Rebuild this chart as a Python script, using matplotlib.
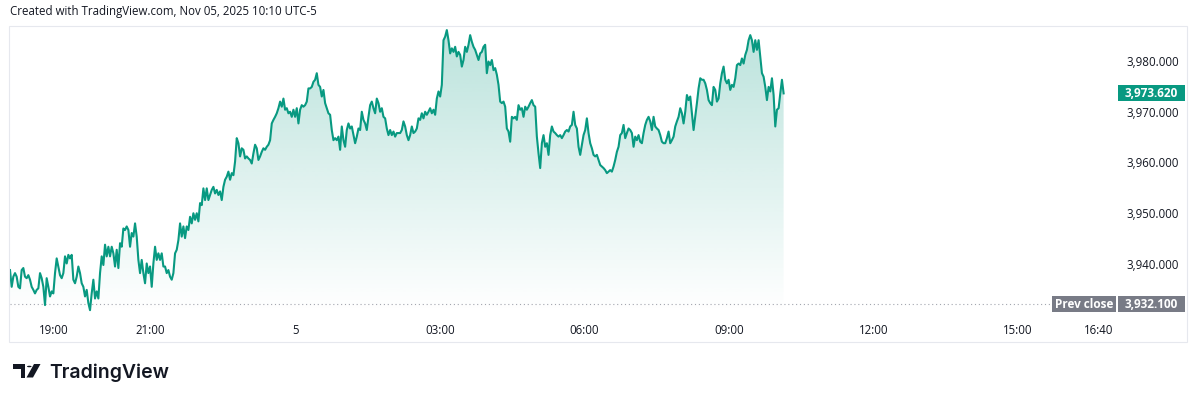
import matplotlib
matplotlib.use("Agg")
import matplotlib.pyplot as plt
import matplotlib.dates as mdates
from matplotlib.patches import Rectangle, Polygon, Circle
import numpy as np
import pandas as pd

header = "Created with TradingView.com, Nov 05, 2025 10:10 UTC-5"
start_time = "2025-11-04 18:05"
end_time = "2025-11-05 10:08"

# price, roughly every 2 minutes
prices = [
    3938.8, 3935.5, 3937.5, 3938.2, 3937.5, 3935.5, 3935.2, 3938.8, 3939.2, 3937.5,
    3937.2, 3937.8, 3936.9, 3935.5, 3934.9, 3934.2, 3934.9, 3935.2, 3938.2, 3937.2,
    3935.5, 3931.9, 3937.2, 3935.5, 3933.6, 3934.6, 3934.2, 3938.2, 3941.1, 3939.5,
    3937.8, 3937.2, 3938.2, 3941.5, 3940.1, 3941.8, 3941.1, 3941.8, 3936.9, 3936.2,
    3937.5, 3939.5, 3938.2, 3936.2, 3935.5, 3933.6, 3934.9, 3932.3, 3930.9, 3934.2,
    3936.9, 3933.2, 3934.6, 3933.2, 3938.2, 3941.5, 3939.8, 3943.8, 3941.5, 3943.4,
    3941.5, 3943.4, 3942.1, 3939.5, 3942.8, 3939.2, 3944.1, 3943.4, 3947.0, 3946.7,
    3947.4, 3946.7, 3943.4, 3946.1, 3945.4, 3948.0, 3945.4, 3940.8, 3938.2, 3940.8,
    3938.2, 3936.2, 3940.1, 3938.2, 3939.5, 3935.5, 3940.1, 3943.4, 3940.8, 3942.1,
    3940.8, 3942.1, 3939.5, 3939.5, 3938.2, 3938.8, 3937.5, 3936.9, 3938.2, 3942.1,
    3942.8, 3944.7, 3948.0, 3945.4, 3947.4, 3945.1, 3947.4, 3946.7, 3949.3, 3948.0,
    3950.0, 3948.7, 3950.0, 3948.4, 3952.0, 3951.6, 3954.9, 3952.6, 3954.9, 3952.6,
    3953.6, 3954.6, 3955.2, 3953.9, 3954.6, 3953.6, 3954.3, 3952.6, 3955.2, 3956.6,
    3957.2, 3958.2, 3956.6, 3957.9, 3957.5, 3960.2, 3964.8, 3963.8, 3961.2, 3962.8,
    3962.5, 3960.8, 3961.2, 3960.8, 3960.5, 3959.8, 3961.8, 3963.5, 3962.8, 3960.5,
    3961.2, 3962.1, 3962.8, 3962.5, 3963.1, 3963.5, 3964.4, 3967.7, 3968.4, 3969.0,
    3969.7, 3970.7, 3972.0, 3971.0, 3972.6, 3970.4, 3970.7, 3969.7, 3970.0, 3969.0,
    3970.4, 3969.0, 3970.7, 3967.7, 3970.4, 3971.3, 3971.0, 3971.3, 3972.0, 3974.6,
    3974.6, 3974.9, 3975.9, 3976.3, 3977.6, 3975.3, 3974.9, 3973.0, 3974.3, 3971.7,
    3970.7, 3969.7, 3969.4, 3966.4, 3964.4, 3964.8, 3964.4, 3965.1, 3962.5, 3967.1,
    3964.4, 3963.1, 3966.4, 3967.7, 3966.7, 3967.1, 3965.4, 3963.8, 3965.1, 3966.7,
    3966.4, 3970.0, 3968.4, 3967.7, 3966.4, 3969.0, 3971.3, 3972.0, 3970.7, 3969.7,
    3972.6, 3971.7, 3970.0, 3970.7, 3969.0, 3968.7, 3966.7, 3965.4, 3966.4, 3965.4,
    3966.1, 3965.1, 3965.8, 3965.8,
    3965.8, 3966.4, 3968.1, 3967.1, 3965.4, 3964.4, 3965.4, 3967.1, 3965.8, 3966.1,
    3966.7, 3968.7, 3968.4, 3969.7, 3968.7, 3970.0, 3969.4, 3970.0, 3970.7, 3969.7,
    3970.4, 3969.4, 3972.6, 3974.0, 3973.0, 3975.3, 3984.1, 3984.8, 3986.1, 3984.1,
    3981.5, 3982.5, 3981.8, 3982.8, 3980.9, 3981.8, 3981.2, 3978.9, 3980.2, 3982.8,
    3981.8, 3983.2, 3985.1, 3983.8, 3982.8, 3982.2, 3981.2, 3980.2, 3981.5, 3981.8,
    3982.8, 3983.2, 3977.6, 3979.9, 3979.2, 3980.2, 3978.2, 3978.6, 3977.3, 3975.3,
    3972.0, 3971.7, 3972.0, 3971.0, 3966.7, 3966.1, 3964.1, 3969.0, 3968.7, 3969.0,
    3968.4, 3971.3, 3970.4, 3970.7, 3969.0, 3971.0, 3970.4, 3971.0, 3971.7, 3972.3,
    3971.3, 3971.0, 3965.1, 3961.8, 3958.9, 3963.8, 3965.4, 3963.1, 3963.8, 3961.5,
    3965.4, 3967.1, 3966.1, 3965.8, 3965.4, 3965.1, 3965.4, 3964.8, 3965.4, 3966.1,
    3966.4, 3966.1, 3967.1, 3967.4, 3970.0, 3967.4, 3966.7, 3963.1, 3961.5, 3963.5,
    3965.4, 3966.4, 3968.7, 3965.8, 3963.8, 3962.8, 3961.5, 3961.2, 3961.5, 3960.5,
    3959.5, 3959.2, 3958.9, 3958.5, 3957.9, 3958.2, 3958.5, 3958.2, 3959.2, 3960.5,
    3962.1, 3963.1, 3965.4, 3965.8, 3967.4, 3964.8, 3965.8, 3966.7, 3966.4, 3965.8,
    3963.1, 3965.1, 3964.4, 3965.4, 3964.1, 3963.8, 3965.8, 3967.4, 3968.4, 3969.0,
    3968.1, 3966.4, 3969.0, 3967.1, 3966.7, 3966.4, 3965.4, 3964.1, 3963.8, 3963.8,
    3964.8, 3966.1, 3963.8, 3964.4, 3965.1, 3967.1, 3968.1, 3969.0, 3970.7, 3969.7,
    3967.7, 3970.0, 3973.3, 3972.3, 3973.0, 3969.7, 3966.4, 3969.0, 3971.7, 3974.6,
    3976.6, 3976.3, 3976.3, 3975.6, 3974.3, 3972.3, 3971.7, 3971.3, 3974.9, 3974.3,
    3972.0, 3972.6, 3975.6, 3977.6, 3978.9, 3976.3, 3975.6, 3976.3, 3974.3, 3975.3,
    3974.9, 3976.6, 3979.2, 3979.5, 3979.2, 3980.5, 3979.5, 3981.2, 3982.2, 3984.1,
    3985.1, 3984.1, 3981.8, 3984.1, 3982.2, 3984.1, 3980.9, 3977.6, 3976.9, 3974.9,
    3972.3, 3974.9, 3974.0, 3976.6, 3973.3, 3967.1, 3970.4, 3970.7, 3973.6, 3976.3,
    3973.62,
]
last_price = 3973.62
prev_close = 3932.10

price_ticks = [3940, 3950, 3960, 3970, 3980]
time_ticks = ["2025-11-04 19:00", "2025-11-04 21:00", "2025-11-05 00:00",
              "2025-11-05 03:00", "2025-11-05 06:00", "2025-11-05 09:00",
              "2025-11-05 12:00", "2025-11-05 15:00", "2025-11-05 16:40"]
time_labels = ["19:00", "21:00", "5", "03:00", "06:00", "09:00", "12:00", "15:00", "16:40"]

W, H = 1200, 401
GREEN = "#089981"
GRAY_BOX = "#787b86"
TEXT = "#131722"
plt.rcParams["font.family"] = ["Open Sans", "DejaVu Sans"]


def fx(px):
    return px / W


def fy(py):
    return 1 - py / H


times = pd.date_range(start_time, end_time, periods=len(prices))
t = mdates.date2num(times.to_pydatetime())
p = np.array(prices)

fig = plt.figure(figsize=(W / 100, H / 100), dpi=100)
fig.patch.set_facecolor("white")

# outer frame of the chart widget
fig.add_artist(Rectangle((fx(9), fy(342)), fx(1187) - fx(9), fy(26) - fy(342),
                         transform=fig.transFigure, fill=False, ec="#e6e8ee", lw=0.8))

ax = fig.add_axes([fx(10), fy(313), fx(1117) - fx(10), fy(26) - fy(313)])
x0 = mdates.date2num(pd.Timestamp("2025-11-04 18:05"))
x1 = mdates.date2num(pd.Timestamp("2025-11-05 17:03"))
ymin, ymax = 3930.34, 3986.9
for s in ax.spines.values():
    s.set_visible(False)

# gradient area under the line
poly = ax.fill_between(t, p, ymin, color="none", lw=0)
grad = np.zeros((256, 1, 4))
grad[:, 0, :3] = matplotlib.colors.to_rgb(GREEN)
grad[:, 0, 3] = np.linspace(0.28, 0.0, 256)
im = ax.imshow(grad, aspect="auto", extent=[t[0], t[-1], ymin, ymax],
               origin="upper", zorder=1, interpolation="bilinear")
im.set_clip_path(poly.get_paths()[0], transform=ax.transData)
ax.set_xlim(x0, x1)
ax.set_ylim(ymin, ymax)

ax.plot(t, p, color=GREEN, lw=1.5, zorder=3, solid_joinstyle="round")

# previous close dotted line
pc_end = mdates.date2num(pd.Timestamp("2025-11-05 15:55"))
ax.plot([x0, pc_end], [prev_close, prev_close], color="#a3a6af", lw=0.8,
        ls=(0, (1, 2.5)), zorder=2)

# axes ticks
ax.yaxis.tick_right()
ax.set_yticks(price_ticks)
ax.set_yticklabels([f"{v:,.3f}" for v in price_ticks], fontsize=8.3, color=TEXT)
ax.tick_params(axis="y", length=0, pad=7)
ax.set_xticks(mdates.date2num(pd.to_datetime(time_ticks).to_pydatetime()))
ax.set_xticklabels(time_labels, fontsize=8.3, color=TEXT)
ax.tick_params(axis="x", length=0, pad=8)

fig.canvas.draw()
inv = fig.transFigure.inverted()


def price_fy(v):
    return inv.transform(ax.transData.transform((x0, v)))[1]


# last price label
yl = price_fy(last_price)
bh = 16 / H
fig.add_artist(Rectangle((fx(1118), yl - bh / 2), fx(1185) - fx(1118), bh,
                         transform=fig.transFigure, color=GREEN, lw=0))
fig.text(fx(1151.5), yl, f"{last_price:,.3f}", color="white", fontsize=8.5,
         fontweight="bold", ha="center", va="center")

# prev close labels
yp = price_fy(prev_close)
fig.add_artist(Rectangle((fx(1052), yp - bh / 2), fx(1116) - fx(1052), bh,
                         transform=fig.transFigure, color=GRAY_BOX, lw=0))
fig.text(fx(1084), yp, "Prev close", color="white", fontsize=8.5,
         fontweight="bold", ha="center", va="center")
fig.add_artist(Rectangle((fx(1118), yp - bh / 2), fx(1185) - fx(1118), bh,
                         transform=fig.transFigure, color=GRAY_BOX, lw=0))
fig.text(fx(1151.5), yp, f"{prev_close:,.3f}", color="white", fontsize=8.5,
         fontweight="bold", ha="center", va="center")

# header
fig.text(fx(10), fy(12), header, fontsize=8.3, color=TEXT, ha="left", va="center")

# TradingView logo
logo = "#131722"
fig.add_artist(Polygon([(fx(12.5), fy(364)), (fx(25), fy(364)), (fx(25), fy(377.5)),
                        (fx(20.5), fy(377.5)), (fx(20.5), fy(368.5)), (fx(12.5), fy(368.5))],
                       closed=True, transform=fig.transFigure, color=logo, lw=0))
fig.add_artist(Circle((fx(29.3), fy(366.5)), 2.3 / W, transform=fig.transFigure,
                      color=logo, lw=0))
fig.add_artist(Polygon([(fx(34), fy(364)), (fx(40.5), fy(364)), (fx(33), fy(377.5)),
                        (fx(26.5), fy(377.5))],
                       closed=True, transform=fig.transFigure, color=logo, lw=0))
fig.text(fx(49), fy(377.5), "TradingView", fontsize=14, fontweight="semibold",
         family=["Inter", "DejaVu Sans"], color=logo, ha="left", va="baseline")

fig.savefig("out.png", dpi=100, facecolor="white")
